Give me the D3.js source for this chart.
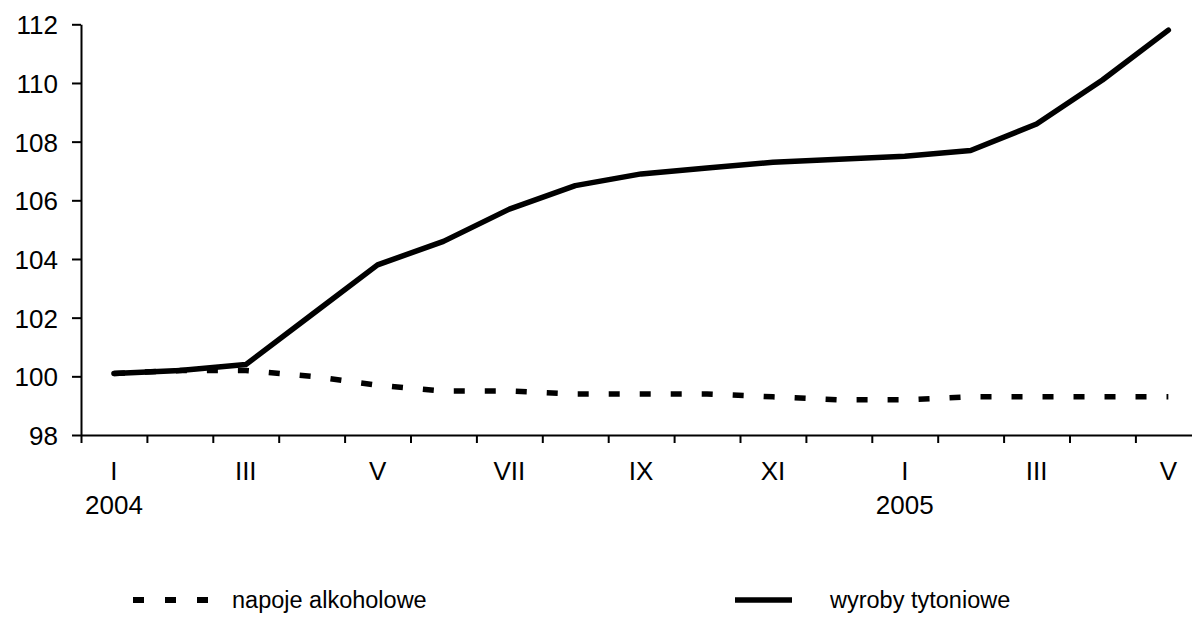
<!DOCTYPE html>
<html>
<head>
<meta charset="utf-8">
<script src="https://cdn.jsdelivr.net/npm/d3@7"></script>
<style>
  body { margin: 0; background: #fff; }
  svg { display: block; font-family: "Liberation Sans", Arial, sans-serif; }
  .axis path, .axis line { stroke: #000; stroke-width: 2; }
  .axis text { fill: #000; font-size: 26px; }
</style>
</head>
<body>
<script>
// months Jan 2004 .. May 2005
const months = ["I","II","III","IV","V","VI","VII","VIII","IX","X","XI","XII","I","II","III","IV","V"];
const monthLabels = ["I","","III","","V","","VII","","IX","","XI","","I","","III","","V"];
const yearLabels = ["2004","","","","","","","","","","","","2005","","","",""];

// series
const alkohol = [100.1,100.2,100.2,100.0,99.7,99.5,99.5,99.4,99.4,99.4,99.3,99.2,99.2,99.3,99.3,99.3,99.3];
const tyton = [100.1,100.2,100.4,102.1,103.8,104.6,105.7,106.5,106.9,107.1,107.3,107.4,107.5,107.7,108.6,110.1,111.8];

const yTicks = [98,100,102,104,106,108,110,112];

const width = 1192, height = 642;
const plotLeft = 81, plotTop = 24.3, plotBottom = 435;
const band = 65.9;

const svg = d3.select("body").append("svg")
  .attr("width", width)
  .attr("height", height);

const idx = d3.range(months.length);

// scales
const x = d3.scaleBand()
  .domain(idx)
  .range([plotLeft, plotLeft + band * months.length])
  .padding(0);

const xEdge = d3.scaleLinear()
  .domain([0, months.length])
  .range([plotLeft, plotLeft + band * months.length]);

const y = d3.scaleLinear()
  .domain([98, 112])
  .range([plotBottom, plotTop]);

// y axis
svg.append("g")
  .attr("class", "axis")
  .attr("transform", `translate(${plotLeft},0)`)
  .call(d3.axisLeft(y).tickValues(yTicks).tickSize(9).tickSizeOuter(0).tickPadding(14))
  .selectAll("text").attr("dy", "0.36em");

// x axis - tick marks at month boundaries
svg.append("g")
  .attr("class", "axis")
  .attr("transform", `translate(0,${plotBottom})`)
  .call(d3.axisBottom(xEdge).tickValues(d3.range(months.length + 1)).tickSize(8).tickSizeOuter(0).tickFormat(""));

// month labels
svg.append("g")
  .attr("class", "axis")
  .attr("transform", `translate(0,${plotBottom})`)
  .call(d3.axisBottom(x).tickSize(0).tickPadding(27).tickFormat(i => monthLabels[i]))
  .call(g => g.select(".domain").remove());

// year labels
svg.append("g")
  .attr("class", "axis")
  .attr("transform", `translate(0,${plotBottom})`)
  .call(d3.axisBottom(x).tickSize(0).tickPadding(61).tickFormat(i => yearLabels[i]))
  .call(g => g.select(".domain").remove());

const line = d3.line()
  .x((d, i) => x(i) + x.bandwidth() / 2)
  .y(d => y(d));

// napoje alkoholowe (dashed)
svg.append("path")
  .datum(alkohol)
  .attr("d", line)
  .attr("fill", "none")
  .attr("stroke", "#000")
  .attr("stroke-width", 5.5)
  .attr("stroke-dasharray", "11,20");

// wyroby tytoniowe (solid)
svg.append("path")
  .datum(tyton)
  .attr("d", line)
  .attr("fill", "none")
  .attr("stroke", "#000")
  .attr("stroke-width", 5.5)
  .attr("stroke-linejoin", "round")
  .attr("stroke-linecap", "round");

// legend
const legend = svg.append("g").attr("font-size", 23.5);

legend.append("line")
  .attr("x1", 133).attr("x2", 208)
  .attr("y1", 600).attr("y2", 600)
  .attr("stroke", "#000")
  .attr("stroke-width", 6)
  .attr("stroke-dasharray", "11,21");

legend.append("text")
  .attr("x", 232).attr("y", 608)
  .text("napoje alkoholowe");

legend.append("line")
  .attr("x1", 735).attr("x2", 792)
  .attr("y1", 600).attr("y2", 600)
  .attr("stroke", "#000")
  .attr("stroke-width", 5.5);

legend.append("text")
  .attr("x", 830).attr("y", 608)
  .text("wyroby tytoniowe");
</script>
</body>
</html>
